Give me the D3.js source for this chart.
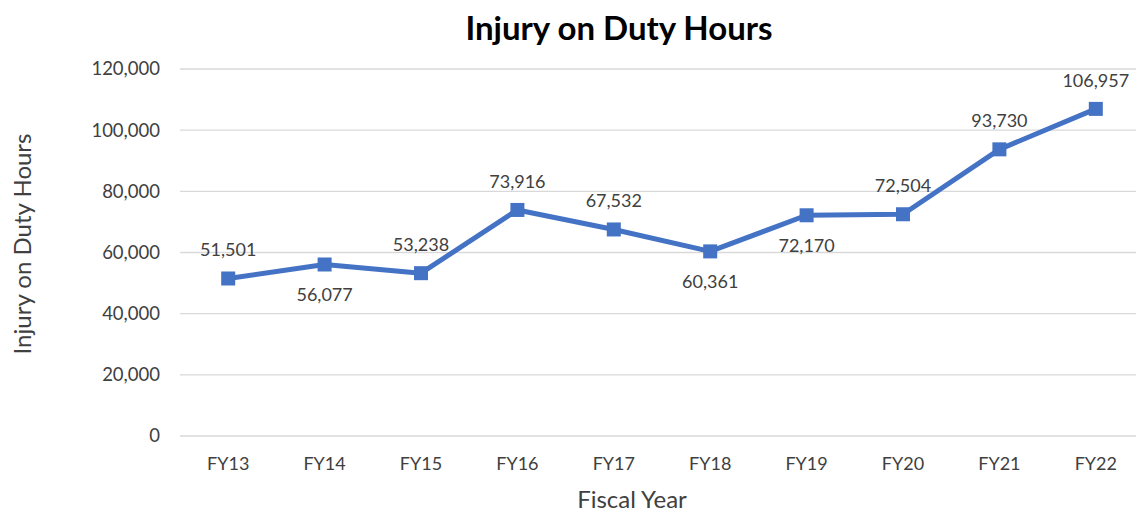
<!DOCTYPE html>
<html>
<head>
<meta charset="utf-8">
<script src="https://cdn.jsdelivr.net/npm/d3@7"></script>
<style>
  body { margin: 0; background: #fff; }
  text { font-family: Lato, "Open Sans", sans-serif; fill: #404040; }
</style>
</head>
<body>
<div id="chart"></div>
<script>
var years = ["FY13", "FY14", "FY15", "FY16", "FY17", "FY18", "FY19", "FY20", "FY21", "FY22"]
var hours = [51501, 56077, 53238, 73916, 67532, 60361, 72170, 72504, 93730, 106957]
// where each data label sits relative to its marker
var labelSide = ["above", "below", "above", "above", "above", "below", "below", "above", "above", "above"]
var yTicks = [0, 20000, 40000, 60000, 80000, 100000, 120000]

var width = 1136
var height = 512

var svg = d3.select('#chart').append("svg")
  .attr('width', width).attr('height', height)

var x = d3.scaleBand().domain(years).range([180, 1144])
var y = d3.scaleLinear().domain([0, 120000]).range([436, 69])
var fmt = d3.format(",")

// gridlines
svg.append("g")
  .selectAll("line")
  .data(yTicks)
  .enter().append("line")
  .attr("x1", 180)
  .attr("x2", width)
  .attr("y1", function(d) { return y(d) })
  .attr("y2", function(d) { return y(d) })
  .attr("stroke", "#d9d9d9")
  .attr("stroke-width", 1.3)

// y tick labels
svg.append("g")
  .selectAll("text")
  .data(yTicks)
  .enter().append("text")
  .attr("x", 160)
  .attr("y", function(d) { return y(d) })
  .attr("dy", "0.35em")
  .attr("text-anchor", "end")
  .attr("font-size", 18.5)
  .text(function(d) { return fmt(d) })

// x tick labels
svg.append("g")
  .selectAll("text")
  .data(years)
  .enter().append("text")
  .attr("x", function(d) { return x(d) + x.bandwidth() / 2 })
  .attr("y", 470)
  .attr("text-anchor", "middle")
  .attr("font-size", 18)
  .text(function(d) { return d })

var line = d3.line()
  .x(function(d, i) { return x(years[i]) + x.bandwidth() / 2 })
  .y(function(d) { return y(d) })

svg.append("path")
  .datum(hours)
  .attr("d", line)
  .attr("fill", "none")
  .attr("stroke", "#4472c4")
  .attr("stroke-width", 5)
  .attr("stroke-linejoin", "round")

svg.append("g")
  .selectAll("rect")
  .data(hours)
  .enter().append("rect")
  .attr("x", function(d, i) { return x(years[i]) + x.bandwidth() / 2 - 7 })
  .attr("y", function(d) { return y(d) - 7 })
  .attr("width", 14)
  .attr("height", 14)
  .attr("fill", "#4472c4")

svg.append("g")
  .selectAll("text")
  .data(hours)
  .enter().append("text")
  .attr("x", function(d, i) { return x(years[i]) + x.bandwidth() / 2 })
  .attr("y", function(d, i) { return labelSide[i] === "above" ? y(d) - 22 : y(d) + 37 })
  .attr("text-anchor", "middle")
  .attr("font-size", 18)
  .text(function(d) { return fmt(d) })

svg.append("text")
  .attr("x", 619)
  .attr("y", 40)
  .attr("text-anchor", "middle")
  .attr("font-size", 33)
  .attr("font-weight", "bold")
  .style("fill", "#000")
  .text("Injury on Duty Hours")

svg.append("text")
  .attr("transform", "translate(31,244) rotate(-90)")
  .attr("text-anchor", "middle")
  .attr("font-size", 24)
  .text("Injury on Duty Hours")

svg.append("text")
  .attr("x", 632)
  .attr("y", 508)
  .attr("text-anchor", "middle")
  .attr("font-size", 24)
  .text("Fiscal Year")
</script>
</body>
</html>
